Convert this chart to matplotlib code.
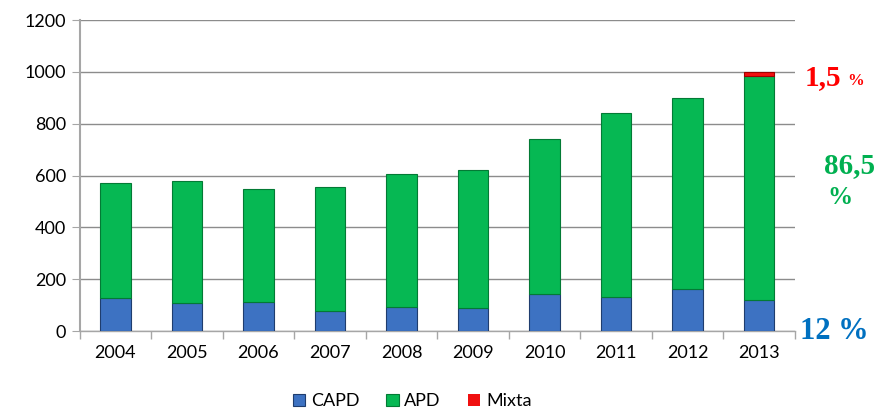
import numpy as np
import matplotlib.pyplot as plt
from matplotlib.ticker import FixedLocator

years = ["2004", "2005", "2006", "2007", "2008", "2009", "2010", "2011", "2012", "2013"]
capd = [127, 108, 112, 77, 93, 89, 143, 131, 162, 120]
total = [571, 579, 548, 556, 606, 621, 741, 841, 899, 1000]
mixta = [0, 0, 0, 0, 0, 0, 0, 0, 0, 15]
apd = [t - c - m for t, c, m in zip(total, capd, mixta)]

plt.rcParams['font.family'] = ['Lato', 'DejaVu Sans']

fig = plt.figure(figsize=(8.86, 4.13), dpi=100)
ax = fig.add_axes([0.090, 0.1985, 0.807, 0.753])

x = np.arange(len(years))
w = 0.42
ax.bar(x, capd, w, color="#3d72c2", edgecolor="#1f3d6e", linewidth=0.8, label="CAPD", zorder=3)
ax.bar(x, apd, w, bottom=capd, color="#06b853", edgecolor="#037a35", linewidth=0.8, label="APD", zorder=3)
bottom2 = [c + a for c, a in zip(capd, apd)]
# only draw an edge where there is actually a Mixta segment
lw_mixta = [0.8 if m > 0 else 0 for m in mixta]
ax.bar(x, mixta, w, bottom=bottom2, color="#f01010", edgecolor="#a00000", linewidth=lw_mixta, label="Mixta", zorder=3)

ax.set_xlim(-0.5, len(years) - 0.5)
ax.set_ylim(0, 1200)
ax.set_yticks(range(0, 1201, 200))
ax.set_xticks(x)
ax.set_xticklabels(years)
ax.xaxis.set_minor_locator(FixedLocator(np.arange(-0.5, len(years), 1.0)))
ax.tick_params(axis="x", which="major", length=0, labelsize=13, pad=10)
ax.tick_params(axis="x", which="minor", length=6, color="#a6a6a6", width=1)
ax.tick_params(axis="y", length=6, color="#a6a6a6", labelsize=13, pad=4)
ax.grid(axis="y", color="#8c8c8c", linewidth=1, zorder=0)
for s in ["top", "right"]:
    ax.spines[s].set_visible(False)
ax.spines["left"].set_color("#a6a6a6")
ax.spines["left"].set_linewidth(1.5)
ax.spines["bottom"].set_color("#a6a6a6")
ax.spines["bottom"].set_linewidth(1)

serif = ['Liberation Serif', 'DejaVu Serif']
fig.text(0.908, 0.795, "1,5", color="#ff0000", fontsize=21, fontweight="bold", family=serif)
fig.text(0.956, 0.795, "%", color="#ff0000", fontsize=12, fontweight="bold", family=serif)
fig.text(0.930, 0.580, "86,5", color="#00b050", fontsize=21, fontweight="bold", family=serif)
fig.text(0.934, 0.505, "%", color="#00b050", fontsize=18, fontweight="bold", family=serif)
fig.text(0.903, 0.180, "12 %", color="#0070c0", fontsize=22, fontweight="bold", family=serif)

fig.legend(loc="lower center", bbox_to_anchor=(0.465, -0.03), ncol=3, frameon=False,
           fontsize=13, handlelength=0.7, handleheight=0.7, handletextpad=0.3, columnspacing=1.5)

fig.savefig("out.png", dpi=100)
